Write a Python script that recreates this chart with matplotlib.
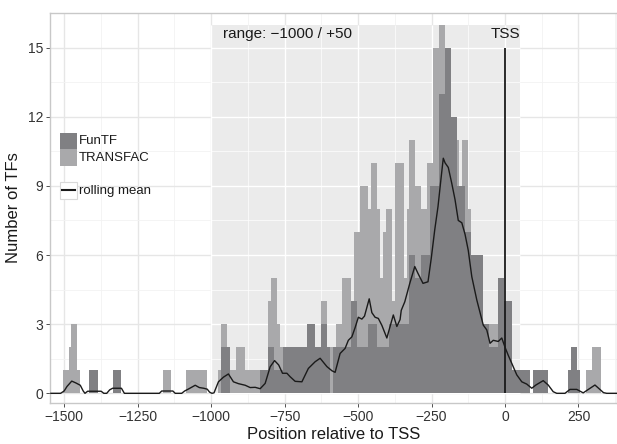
import numpy as np
import matplotlib
matplotlib.use('Agg')
import matplotlib.pyplot as plt
from matplotlib.patches import Rectangle
from matplotlib.lines import Line2D
from matplotlib.transforms import Affine2D

plt.rcParams['font.family'] = ['Liberation Sans', 'DejaVu Sans']

# bin centres, 10 bp wide, from -1500 to +320
bin_start = -1500
bin_width = 10

# TRANSFAC counts per bin (rows of 10 bins)
transfac = [
    1, 1, 2, 3, 3, 1, 0, 0, 0, 0,        # -1500
    0, 0, 0, 0, 0, 0, 0, 0, 0, 0,        # -1400
    0, 0, 0, 0, 0, 0, 0, 0, 0, 0,        # -1300
    0, 0, 0, 0, 1, 1, 1, 0, 0, 0,        # -1200
    0, 0, 1, 1, 1, 1, 1, 1, 1, 0,        # -1100
    0, 0, 0, 1, 3, 3, 1, 1, 1, 2,        # -1000
    2, 2, 1, 1, 1, 1, 1, 0, 0, 0,        # -900
    4, 5, 5, 3, 2, 0, 0, 0, 0, 0,        # -800
    0, 0, 0, 0, 0, 0, 0, 0, 4, 4,        # -700
    2, 2, 2, 3, 3, 5, 5, 5, 4, 7,        # -600
    7, 9, 9, 9, 8, 10, 10, 8, 5, 7,      # -500
    8, 8, 4, 10, 10, 10, 5, 8, 11, 11,   # -400
    9, 9, 8, 8, 10, 10, 15, 15, 16, 16,  # -300
    15, 15, 12, 12, 11, 9, 11, 11, 8, 6, # -200
    6, 6, 6, 3, 3, 3, 3, 3, 5, 5,        # -100
    4, 4, 4, 0, 0, 0, 0, 0, 0, 0,        # 0
    0, 0, 0, 0, 0, 0, 0, 0, 0, 0,        # 100
    0, 0, 0, 0, 0, 0, 0, 0, 1, 1,        # 200
    2, 2, 2,                             # 300
]

# FunTF counts per bin
funtf = [
    0, 0, 0, 0, 0, 0, 0, 0, 0, 1,        # -1500
    1, 1, 0, 0, 0, 0, 0, 1, 1, 1,        # -1400
    0, 0, 0, 0, 0, 0, 0, 0, 0, 0,        # -1300
    0, 0, 0, 0, 0, 0, 0, 0, 0, 0,        # -1200
    0, 0, 0, 0, 0, 0, 0, 0, 0, 0,        # -1100
    0, 0, 0, 0, 2, 2, 2, 0, 0, 0,        # -1000
    0, 0, 0, 0, 0, 0, 0, 1, 1, 1,        # -900
    2, 2, 1, 1, 1, 2, 2, 2, 2, 2,        # -800
    2, 2, 2, 3, 3, 3, 2, 2, 3, 3,        # -700
    2, 0, 2, 2, 2, 2, 2, 2, 4, 4,        # -600
    2, 2, 2, 2, 3, 3, 3, 2, 2, 2,        # -500
    2, 3, 3, 3, 3, 3, 3, 3, 6, 6,        # -400
    5, 5, 6, 6, 6, 9, 9, 9, 13, 13,      # -300
    15, 15, 12, 12, 9, 9, 9, 7, 7, 6,    # -200
    6, 6, 6, 3, 3, 2, 2, 2, 5, 5,        # -100
    4, 4, 4, 1, 1, 1, 1, 1, 1, 0,        # 0
    1, 1, 1, 1, 1, 0, 0, 0, 0, 0,        # 100
    0, 0, 1, 2, 2, 1, 0, 0, 0, 0,        # 200
    0, 0, 0,                             # 300
]

# rolling mean
mean_x = [-1545, -1512, -1500, -1490, -1474, -1460, -1445, -1435, -1429, -1420,
          -1374, -1365, -1355, -1345, -1335, -1305, -1295, -1176, -1168, -1130,
          -1122, -1100, -1090, -1075, -1054, -1040, -1025, -1013, -1005, -997,
          -990, -975, -958, -941, -924, -907, -884, -867, -850, -833,
          -816, -799, -784, -770, -757, -742, -731, -714, -691, -669,
          -646, -629, -606, -589, -578, -561, -544, -533, -521, -510,
          -499, -487, -478, -462, -453, -442, -431, -419, -402, -391,
          -380, -368, -357, -353, -341, -324, -307, -296, -279, -262,
          -251, -239, -228, -217, -210, -204, -193, -181, -170, -159,
          -147, -136, -125, -113, -96, -74, -62, -51, -40, -23,
          -11, 0, 11, 23, 40, 57, 74, 91, 105, 130,
          147, 164, 176, 204, 221, 244, 266, 306, 335, 346, 380]
mean_y = [0, 0, 0.1, 0.3, 0.53, 0.45, 0.35, 0.1, 0.0, 0.09,
          0.09, 0, 0, 0.15, 0.22, 0.22, 0, 0, 0.1, 0.1,
          0, 0, 0.1, 0.2, 0.35, 0.25, 0.22, 0.18, 0.05, 0,
          0.02, 0.5, 0.7, 0.84, 0.5, 0.42, 0.35, 0.25, 0.26, 0.2,
          0.43, 1.15, 1.42, 1.23, 0.87, 0.87, 0.72, 0.52, 0.5, 1.08,
          1.37, 1.52, 1.16, 0.98, 0.91, 1.73, 1.95, 2.3, 2.45, 2.85,
          3.3, 3.22, 3.35, 4.1, 3.5, 3.3, 3.25, 2.95, 2.4, 2.9,
          3.4, 2.9, 3.2, 3.6, 3.97, 4.77, 5.5, 5.2, 4.77, 4.84,
          5.85, 7.1, 8.1, 9.4, 10.2, 10.0, 9.8, 9.1, 8.4, 7.5,
          7.4, 6.9, 6.2, 5.06, 4.05, 2.96, 2.75, 2.17, 2.3, 2.25,
          2.4, 2.0, 1.65, 1.3, 0.8, 0.5, 0.4, 0.22, 0.36, 0.55,
          0.36, 0.07, 0, 0, 0.17, 0.17, 0.02, 0.36, 0.03, 0, 0]

range_lo, range_hi = -1000, 50
x_ticks = [-1500, -1250, -1000, -750, -500, -250, 0, 250]
y_ticks = [0, 3, 6, 9, 12, 15]

col_funtf = '#808083'
col_transfac = '#a9a9ab'
col_shade = '#ebebeb'

centres = bin_start + bin_width * np.arange(len(funtf))

fig = plt.figure(figsize=(6.17, 4.44), dpi=100)
ax = fig.add_axes([50 / 617, 41 / 444, 567 / 617, 390 / 444])
ax.set_xlim(-1548, 381)
ax.set_ylim(-0.42, 16.48)

# grid outside the shaded range
ax.set_axisbelow(True)
ax.set_xticks(x_ticks)
ax.set_yticks(y_ticks)
x_minor = [t + 125 for t in x_ticks]
y_minor = [t + 1.5 for t in y_ticks[:-1]] + [16.5]
ax.set_xticks(x_minor, minor=True)
ax.set_yticks(y_minor, minor=True)
ax.grid(which='major', color='#e6e6e6', lw=1.0)
ax.grid(which='minor', color='#f2f2f2', lw=0.6)

# shaded range with white grid inside
ax.add_patch(Rectangle((range_lo, 0), range_hi - range_lo, 16, color=col_shade, lw=0, zorder=0.6))
xin = [t for t in x_ticks if range_lo <= t <= range_hi]
xin_m = [t for t in x_minor if range_lo <= t <= range_hi]
yin = [t for t in y_ticks if t <= 16]
yin_m = [t for t in y_minor if t <= 16]
ax.vlines(xin, 0, 16, color='white', lw=1.0, zorder=0.7)
ax.vlines(xin_m, 0, 16, color='white', lw=0.5, zorder=0.7)
ax.hlines(yin, range_lo, range_hi, color='white', lw=1.0, zorder=0.7)
ax.hlines(yin_m, range_lo, range_hi, color='white', lw=0.5, zorder=0.7)

ax.bar(centres, transfac, width=bin_width, color=col_transfac, lw=0, zorder=2)
ax.bar(centres, funtf, width=bin_width, color=col_funtf, lw=0, zorder=3)
ax.plot(mean_x, mean_y, color='#1a1a1a', lw=1.0, zorder=4)
ax.vlines(0, 0, 15, color='#1a1a1a', lw=1.3, zorder=5)

ax.text(-960, 15.6, 'range: \u22121000 / +50', fontsize=11, color='#1a1a1a', va='center', ha='left', zorder=6)
ax.text(0, 15.6, 'TSS', fontsize=11, color='#1a1a1a', va='center', ha='center', zorder=6)

for s in ax.spines.values():
    s.set_color('#c8c8c8')
    s.set_linewidth(1.0)
ax.tick_params(which='major', length=3, width=0.6, color='#333333', labelsize=10, labelcolor='#333333', pad=2)
ax.tick_params(which='minor', length=0)
ax.set_xticklabels([f'{t}'.replace('-', '\u2212') for t in x_ticks])
ax.set_xlabel('Position relative to TSS', fontsize=12, color='#1a1a1a', labelpad=2)
ax.set_ylabel('Number of TFs', fontsize=12, color='#1a1a1a', labelpad=5)

# legends, drawn in figure pixels
px = Affine2D().scale(1 / 617, -1 / 444).translate(0, 1) + fig.transFigure
fig.patches.append(Rectangle((60, 132.7), 17, 16.6, color=col_funtf, lw=0, transform=px, figure=fig))
fig.patches.append(Rectangle((60, 149.3), 17, 16.7, color=col_transfac, lw=0, transform=px, figure=fig))
fig.text(79, 141, 'FunTF', transform=px, fontsize=9.5, color='#1a1a1a', va='center')
fig.text(79, 158, 'TRANSFAC', transform=px, fontsize=9.5, color='#1a1a1a', va='center')
fig.patches.append(Rectangle((59.5, 181.7), 17.5, 17.6, facecolor='white', edgecolor='#d9d9d9', lw=0.8, transform=px, figure=fig))
fig.lines.append(Line2D([61.5, 75], [190.5, 190.5], color='#1a1a1a', lw=1.5, transform=px, figure=fig))
fig.text(79, 191, 'rolling mean', transform=px, fontsize=9.5, color='#1a1a1a', va='center')

fig.savefig('out.png', dpi=100)
